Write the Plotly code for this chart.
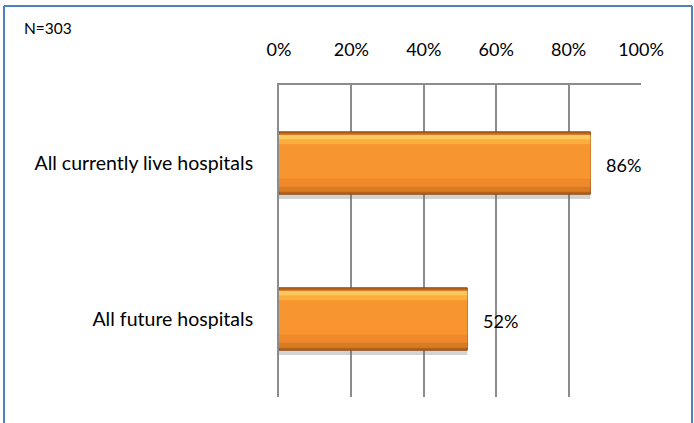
import plotly.graph_objects as go

# Survey share by hospital group
categories = ["All currently live hospitals", "All future hospitals"]
values = [86, 52]
value_labels = ["86%", "52%"]
tick_vals = [0, 20, 40, 60, 80, 100]
tick_text = ["0%", "20%", "40%", "60%", "80%", "100%"]
note = "N=303"

W, H = 694, 423
ML, MR, MT, MB = 279, 53, 85, 26
PW, PH = W - ML - MR, H - MT - MB

FONT = "Lato, 'Open Sans', sans-serif"
GRID = "#8C8C8C"

fig = go.Figure()

bar_w = 0.40

# soft drop shadow below each bar
fig.add_trace(go.Bar(
    y=categories, x=values, orientation="h", width=bar_w, offset=-bar_w / 2 - 0.03,
    marker=dict(color="rgba(110,110,110,0.30)", line=dict(width=0)),
    hoverinfo="skip", showlegend=False,
))

# bevelled bar built as stacked bands (fraction from bottom, height fraction, colour)
bands = [
    (0.00, 1.00, "#B8631A"),
    (0.04, 0.93, "#D97B22"),
    (0.12, 0.80, "#F0892A"),
    (0.25, 0.55, "#F7962F"),
    (0.80, 0.10, "#FBAE3E"),
    (0.88, 0.07, "#FDC85E"),
]
for i, (start, frac, col) in enumerate(bands):
    fig.add_trace(go.Bar(
        y=categories, x=values, orientation="h",
        width=bar_w * frac, offset=-bar_w / 2 + bar_w * start,
        marker=dict(color=col, line=dict(color="#8A4A12", width=1) if i == 0 else dict(width=0)),
        hoverinfo="skip" if i else None, showlegend=False,
    ))

# value labels beside each bar
for cat, v, lab in zip(categories, values, value_labels):
    fig.add_annotation(
        x=v, y=cat, xref="x", yref="y", text=lab, showarrow=False,
        xanchor="left", xshift=14, yshift=-2, font=dict(family=FONT, size=18, color="#000000"),
    )

# sample size note
fig.add_annotation(
    x=(22 - ML) / PW, y=(H - MB - 28) / PH, xref="paper", yref="paper",
    text=note, showarrow=False, xanchor="left", yanchor="middle",
    font=dict(family=FONT, size=15.5, color="#000000"),
)

# outer chart frame (open at the bottom edge of the page)
fx0, fx1 = (4 - ML) / PW, (692 - ML) / PW
fy_top = (H - MB - 6) / PH
fy_bot = (H - MB - 430) / PH
for x0, x1, y0, y1 in [(fx0, fx0, fy_bot, fy_top), (fx0, fx1, fy_top, fy_top), (fx1, fx1, fy_bot, fy_top)]:
    fig.add_shape(type="line", xref="paper", yref="paper", x0=x0, x1=x1, y0=y0, y1=y1,
                  line=dict(color="#4F81BD", width=2))

fig.update_layout(
    width=W, height=H,
    margin=dict(l=ML, r=MR, t=MT, b=MB, pad=0),
    paper_bgcolor="white", plot_bgcolor="white",
    barmode="overlay", bargap=0.6,
    xaxis=dict(
        side="top", range=[0, 100], tickvals=tick_vals, ticktext=tick_text,
        showgrid=True, gridcolor=GRID, gridwidth=2,
        showline=True, linecolor=GRID, linewidth=2,
        zeroline=False, ticks="", ticklabelstandoff=20,
        tickfont=dict(family=FONT, size=18, color="#000000"),
        fixedrange=True,
    ),
    yaxis=dict(
        categoryorder="array", categoryarray=categories[::-1],
        showgrid=False, showline=True, linecolor=GRID, linewidth=2,
        zeroline=False, ticks="", ticklabelstandoff=20,
        tickfont=dict(family=FONT, size=19.5, color="#000000"),
        fixedrange=True,
    ),
    font=dict(family=FONT),
)

fig.write_html("out.html")
